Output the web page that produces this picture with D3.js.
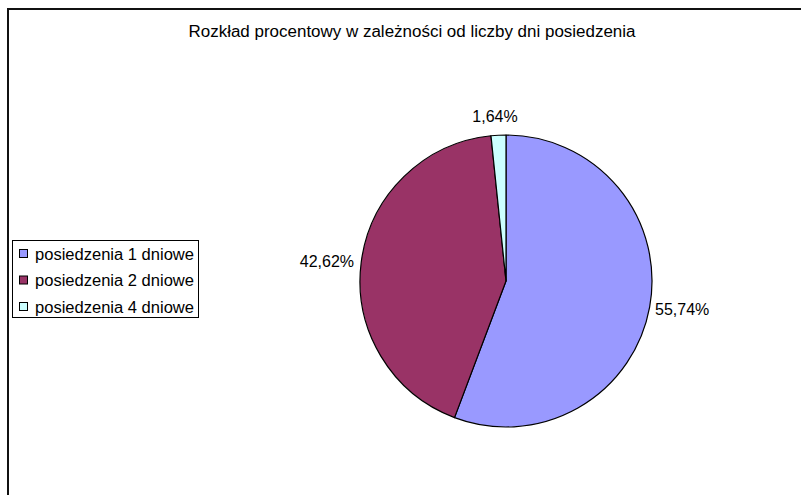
<!DOCTYPE html>
<html><head><meta charset="utf-8">
<script src="https://cdn.jsdelivr.net/npm/d3@7"></script>
<style>html,body{margin:0;padding:0;background:#fff;}svg{display:block;}</style>
</head><body>
<svg id="c" width="801" height="495"></svg>
<script>
const categories = ["posiedzenia 1 dniowe", "posiedzenia 2 dniowe", "posiedzenia 4 dniowe"];
const values = [34, 26, 1];
const labels = ["55,74%", "42,62%", "1,64%"];
const colors = ["#9999FF", "#993366", "#CCFFFF"];
const title = "Rozkład procentowy w zależności od liczby dni posiedzenia";

const svg = d3.select("#c");
const font = "'Liberation Sans', Arial, sans-serif";

svg.append("rect").attr("x", 8).attr("y", 9).attr("width", 820).attr("height", 520)
  .attr("fill", "#fff").attr("stroke", "#111").attr("stroke-width", 2);

svg.append("text").attr("x", 412).attr("y", 37).attr("text-anchor", "middle")
  .attr("font-family", font).attr("font-size", 16)
  .attr("textLength", 447).attr("lengthAdjust", "spacingAndGlyphs").text(title);

const cx = 506, cy = 281, r = 146;
const pie = d3.pie().sort(null).value(d => d)(values);
const arc = d3.arc().innerRadius(0).outerRadius(r);
const g = svg.append("g").attr("transform", `translate(${cx},${cy})`);
g.selectAll("path").data(pie).join("path")
  .attr("d", arc).attr("fill", (d, i) => colors[i])
  .attr("stroke", "#000").attr("stroke-width", 1.2).attr("stroke-linejoin", "round");

const labelPos = [[655, 315, "start"], [354, 267, "end"], [495, 122, "middle"]];
g.selectAll("text.lbl").data(pie).join("text").attr("class", "lbl")
  .attr("transform", (d, i) => `translate(${labelPos[i][0] - cx},${labelPos[i][1] - cy})`)
  .attr("text-anchor", (d, i) => labelPos[i][2])
  .attr("font-family", font).attr("font-size", 16)
  .text((d, i) => labels[i]);

const lg = svg.append("g");
lg.append("rect").attr("x", 12.5).attr("y", 240.5).attr("width", 186).attr("height", 77)
  .attr("fill", "#fff").attr("stroke", "#000").attr("stroke-width", 1);
const y0 = 254, dy = 26.5;
categories.forEach((c, i) => {
  lg.append("rect").attr("x", 19.5).attr("y", y0 + i * dy - 4.5).attr("width", 8).attr("height", 8)
    .attr("fill", colors[i]).attr("stroke", "#000").attr("stroke-width", 1);
  lg.append("text").attr("x", 35).attr("y", y0 + i * dy + 5.5)
    .attr("font-family", font).attr("font-size", 16)
    .attr("textLength", 159).attr("lengthAdjust", "spacingAndGlyphs").text(c);
});
</script>
</body></html>
